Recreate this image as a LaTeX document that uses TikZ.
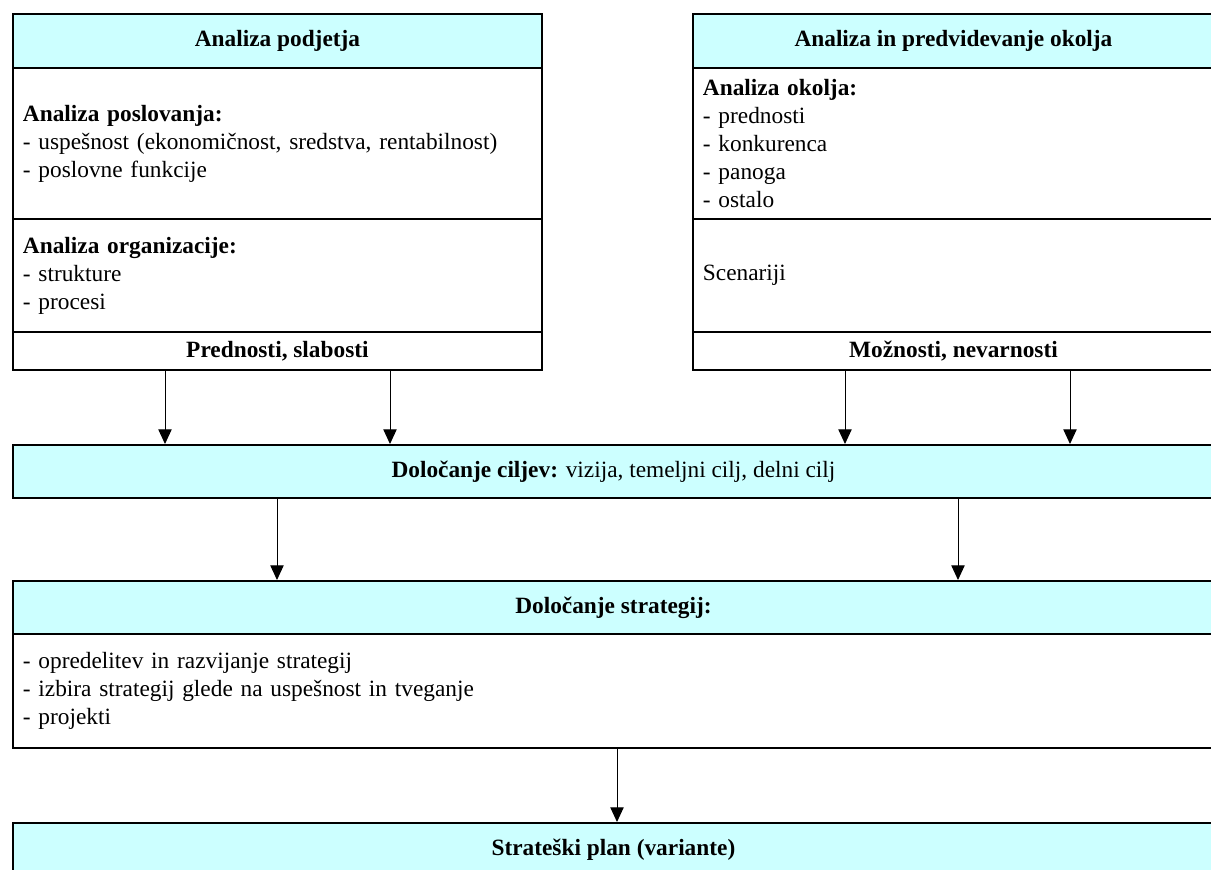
\documentclass[tikz,border=0pt]{standalone}
\usepackage{fontspec}
\setmainfont{Liberation Serif}
\usetikzlibrary{arrows.meta}
\definecolor{boxcyan}{HTML}{CCFFFF}
\begin{document}
\begin{tikzpicture}[x=0.75pt,y=-0.75pt,
  every node/.style={font=\fontsize{17.5}{21}\selectfont},
  cell/.style={draw, line width=1.4pt, rectangle, inner sep=0pt, anchor=north west},
  headcell/.style={cell, fill=boxcyan, align=center, font=\fontsize{17.5}{21}\selectfont\bfseries},
  footcell/.style={cell, fill=white, align=center, font=\fontsize{17.5}{21}\selectfont\bfseries},
  listcell/.style={cell, fill=white, align=left, inner xsep=7.5pt, inner ysep=0pt},
  arr/.style={draw, line width=0.75pt, -{Triangle[length=11pt,width=10pt]}}]
\useasboundingbox (0,0) rectangle (1211,869);
\fill[white] (0,0) rectangle (1211,869);

% company analysis
\node[headcell, minimum width=396.75pt, minimum height=40.5pt] (lhead) at (12,13) {Analiza podjetja};
\node[listcell, text width=381.75pt, minimum height=113.25pt] (lbiz) at (12,67)
  {\textbf{Analiza poslovanja:}\\- uspešnost (ekonomičnost, sredstva, rentabilnost)\\- poslovne funkcije};
\node[listcell, text width=381.75pt, minimum height=84.75pt] (lorg) at (12,218)
  {\textbf{Analiza organizacije:}\\- strukture\\- procesi};
\node[footcell, minimum width=396.75pt, minimum height=28.5pt] (lfoot) at (12,331) {Prednosti, slabosti};

% environment analysis
\node[headcell, minimum width=390.75pt, minimum height=40.5pt] (rhead) at (692,13) {Analiza in predvidevanje okolja};
\node[listcell, text width=375.75pt, minimum height=113.25pt] (renv) at (692,67)
  {\textbf{Analiza okolja:}\\- prednosti\\- konkurenca\\- panoga\\- ostalo};
\node[listcell, text width=375.75pt, minimum height=84.75pt] (rscen) at (692,218) {Scenariji};
\node[footcell, minimum width=390.75pt, minimum height=28.5pt] (rfoot) at (692,331) {Možnosti, nevarnosti};

% goals
\node[headcell, minimum width=900.75pt, minimum height=39.75pt, font=\fontsize{17.5}{21}\selectfont] (goals) at (12,444)
  {\textbf{Določanje ciljev:} vizija, temeljni cilj, delni cilj};

% strategies
\node[headcell, minimum width=900.75pt, minimum height=39.75pt] (shead) at (12,580) {Določanje strategij:};
\node[listcell, text width=885.75pt, minimum height=85.5pt] (sbody) at (12,633)
  {- opredelitev in razvijanje strategij\\- izbira strategij glede na uspešnost in tveganje\\- projekti};

% strategic plan
\node[headcell, minimum width=900.75pt, minimum height=39.75pt] (plan) at (12,822) {Strateški plan (variante)};

% arrow columns
\coordinate (c1) at (165,0);
\coordinate (c2) at (390,0);
\coordinate (c3) at (845,0);
\coordinate (c4) at (1070,0);
\coordinate (c5) at (277,0);
\coordinate (c6) at (958,0);
\coordinate (c7) at (617,0);

\draw[arr] (lfoot.south -| c1) -- (goals.north -| c1);
\draw[arr] (lfoot.south -| c2) -- (goals.north -| c2);
\draw[arr] (rfoot.south -| c3) -- (goals.north -| c3);
\draw[arr] (rfoot.south -| c4) -- (goals.north -| c4);
\draw[arr] (goals.south -| c5) -- (shead.north -| c5);
\draw[arr] (goals.south -| c6) -- (shead.north -| c6);
\draw[arr] (sbody.south -| c7) -- (plan.north -| c7);
\end{tikzpicture}
\end{document}
